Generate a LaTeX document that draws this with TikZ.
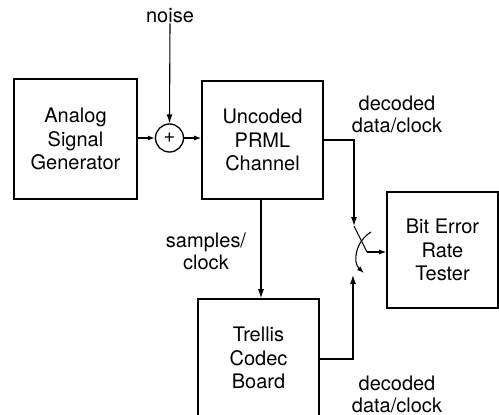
\documentclass[tikz,border=0pt]{standalone}
\usepackage{fontspec}
\setmainfont{TeX Gyre Heros}
\usetikzlibrary{arrows.meta}
\begin{document}
\begin{tikzpicture}[x=1pt,y=-1pt,
  blk/.style={draw,line width=1.6pt,inner sep=0pt,align=center,font=\fontsize{20}{23.5}\selectfont},
  lbl/.style={align=center,inner sep=0pt,font=\fontsize{20}{22}\selectfont},
  conn/.style={line width=1.1pt},
  arr/.style={conn,-{Latex[length=9pt,width=6pt]}},
  shortarr/.style={conn,-{Latex[length=7pt,width=5pt]}}]
\useasboundingbox (0,0) rectangle (499,415);
\clip (0,0) rectangle (499,415);
\node[blk,minimum width=123pt,minimum height=120pt] (ana) at (75.5,139) {Analog\\Signal\\Generator};
\node[draw,circle,line width=1.3pt,minimum size=28pt,inner sep=0pt,font=\fontsize{20}{20}\selectfont] (add) at (169.5,138) {+};
\node[blk,minimum width=121pt,minimum height=118pt] (unc) at (262.5,140) {Uncoded\\PRML\\Channel};
\node[blk,minimum width=111pt,minimum height=116pt] (ber) at (442.5,250) {Bit Error\\Rate\\Tester};
\node[blk,minimum width=121pt,minimum height=118pt] (tre) at (258.5,358) {Trellis\\Codec\\Board};
\node[lbl] (noise) at (170,16) {noise};
\node[lbl] (dec1) at (397,114) {decoded\\data/clock};
\node[lbl] (samp) at (206,251) {samples/\\clock};
\node[lbl] (dec2) at (397,394) {decoded\\data/clock};
\coordinate (swtop) at (354,226);
\coordinate (knee) at (367,252);
\coordinate (arcs) at (371,232);
\coordinate (arce) at (364,273);
\coordinate (uptip) at (353,275);
\draw[arr] (noise.south) -- (add.north);
\draw[shortarr] (ana.east |- add.west) -- (add.west);
\draw[shortarr] (add.east) -- (unc.west |- add.east);
\draw[arr] (unc.east |- 0,140) -| (swtop);
\draw[arr] (unc.south -| 261,0) -- (tre.north -| 261,0);
\draw[arr] (tre.east |- 0,359) -| (uptip);
\draw[conn] (swtop) -- (knee);
\draw[shortarr] (knee) -- (ber.west |- knee);
\draw[shortarr] (arcs) .. controls (356,241) and (352,262) .. (arce);
\end{tikzpicture}
\end{document}
